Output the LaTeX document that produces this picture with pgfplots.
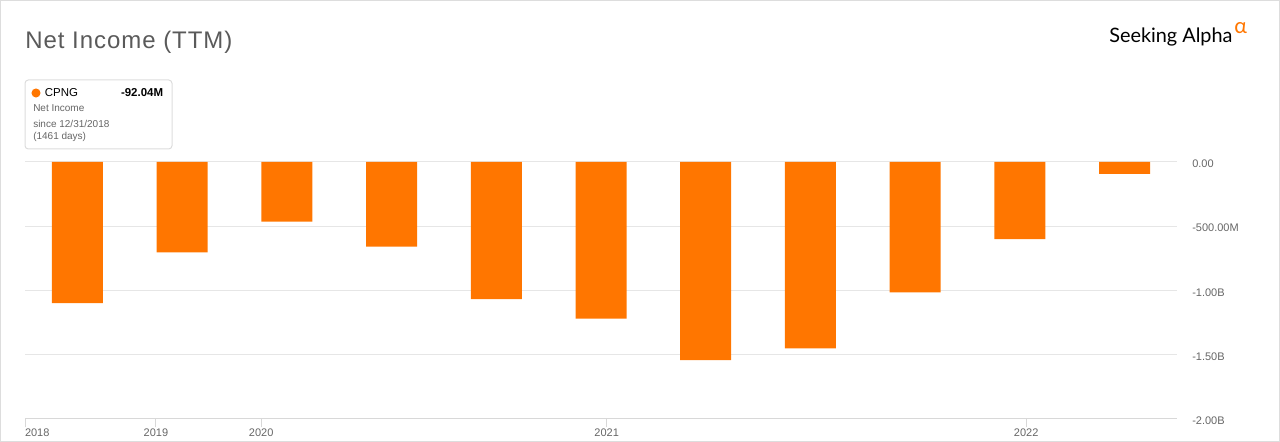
\documentclass[border=0pt]{standalone}
\usepackage{fontspec}
\setmainfont{Liberation Sans}
\newfontfamily\logofont{Lato}
\newfontfamily\titlefont[LetterSpace=4]{Liberation Sans}
\usepackage{pgfplots}
\usepackage{pgfplotstable}
\pgfplotsset{compat=1.18}

\definecolor{saorange}{HTML}{FF7600}
\definecolor{gridgray}{HTML}{E6E6E6}
\definecolor{axisgray}{HTML}{D8D8D8}
\definecolor{ticktext}{HTML}{666666}
\definecolor{titlegray}{HTML}{5A5A5A}
\definecolor{boxgray}{HTML}{DDDDDD}

% net income (TTM), billions USD, one bar per quarter
\pgfplotstableread{
idx value
0  -1.101
1  -0.705
2  -0.465
3  -0.659
4  -1.070
5  -1.222
6  -1.544
7  -1.453
8  -1.016
9  -0.601
10 -0.09204
}\netincome

\newcommand{\ticksize}{\fontsize{8.25pt}{10pt}\selectfont}

\begin{document}
\begin{tikzpicture}
% canvas: 1280 x 442 px, 1px = 0.75pt
\draw[boxgray, line width=0.75pt] (0.375pt,0.375pt) rectangle (959.625pt,331.125pt);
\useasboundingbox (0,0) rectangle (960pt,331.5pt);

% title
\node[anchor=base west, inner sep=0pt, text=titlegray]
  at (18.75pt,295pt) {\titlefont\fontsize{18pt}{20pt}\selectfont Net Income (TTM)};

% logo
\node[anchor=base west, inner sep=0pt]
  at (831.75pt,299.25pt) {\logofont\fontsize{14.9pt}{18pt}\selectfont Seeking Alpha};
\node[anchor=base west, inner sep=0pt, text=saorange]
  at (925.5pt,306.5pt) {\logofont\fontsize{16pt}{19pt}\selectfont α};

% info box
\draw[boxgray, line width=0.75pt, rounded corners=2.5pt, fill=white]
  (18.75pt,219.75pt) rectangle (129pt,271.5pt);
\fill[saorange] (27pt,261.75pt) circle (3.4pt);
\node[anchor=west, inner sep=0pt] at (33.5pt,261.75pt)
  {\fontsize{8.6pt}{10pt}\selectfont CPNG};
\node[anchor=east, inner sep=0pt] at (122.5pt,261.75pt)
  {\fontsize{8.6pt}{10pt}\selectfont\bfseries -92.04M};
\node[anchor=west, inner sep=0pt, text=ticktext] at (24.75pt,250.5pt)
  {\fontsize{7.5pt}{9pt}\selectfont Net Income};
\node[anchor=west, inner sep=0pt, text=ticktext] at (24.75pt,238.5pt)
  {\fontsize{7.5pt}{9pt}\selectfont since 12/31/2018};
\node[anchor=west, inner sep=0pt, text=ticktext] at (24.75pt,228.75pt)
  {\fontsize{7.5pt}{9pt}\selectfont (1461 days)};

\begin{axis}[
  at={(18.75pt,17.625pt)}, anchor=south west,
  scale only axis,
  width=864pt, height=192.375pt,
  xmin=-0.5, xmax=10.5,
  ymin=-2, ymax=0,
  ybar, bar width=38.25pt,
  axis x line*=bottom,
  axis y line*=right,
  y axis line style={draw=none},
  x axis line style={draw=axisgray, line width=0.75pt, -},
  xtick={-0.5,0.75,1.755,5.054,9.06},
  xticklabels={\rlap{2018},2019,2020,2021,2022},
  xtick align=outside,
  major tick length=6.75pt,
  xtick style={draw=axisgray, line width=0.75pt},
  ytick={-2,-1.5,-1,-0.5,0},
  yticklabels={-2.00B,-1.50B,-1.00B,-500.00M,0.00},
  ytick style={draw=none},
  ymajorgrids,
  grid style={gridgray, line width=0.75pt},
  yticklabel style={anchor=west, inner sep=0pt, xshift=11.25pt, yshift=-1.5pt,
    font=\ticksize, text=ticktext},
  xticklabel style={anchor=north, inner sep=0pt, yshift=-1pt,
    font=\ticksize, text=ticktext},
  clip=false,
]
\addplot[fill=saorange, draw=none, bar shift=0pt]
  table[x=idx, y=value] {\netincome};
\end{axis}
\end{tikzpicture}
\end{document}
